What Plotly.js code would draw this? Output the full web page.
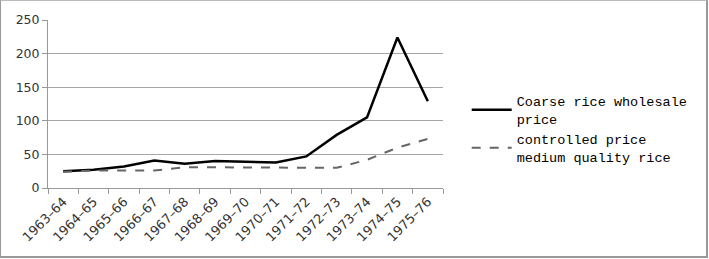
<!DOCTYPE html>
<html>
<head>
<meta charset="utf-8">
<script src="https://cdn.plot.ly/plotly-3.0.1.min.js"></script>
<style>
  html, body { margin: 0; padding: 0; background: #fff; }
  #wrap { position: relative; width: 709px; height: 259px; }
  #chart { position: absolute; left: 0; top: 0; width: 709px; height: 259px; }
  #frame { position: absolute; left: 0; top: 0; width: 705px; height: 255px;
           border-left: 1px solid #999; border-top: 1px solid #bbb;
           border-right: 2px solid #999; border-bottom: 2px solid #999;
           pointer-events: none; }
</style>
</head>
<body>
<div id="wrap"><div id="chart"></div><div id="frame"></div></div>
<script>
const years = ["1963–64","1964–65","1965–66","1966–67","1967–68","1968–69","1969–70",
               "1970–71","1971–72","1972–73","1973–74","1974–75","1975–76"];
const coarseWholesale = [25, 27, 32, 41, 36, 40, 39, 38, 47, 79, 105, 224, 129];
const controlledMedium = [24, 26, 26, 26, 31, 31, 31, 30, 30, 30, 42, 60, 73];
const seriesNames = ["Coarse rice wholesale<br>price", "controlled price<br>medium quality rice"];

const traces = [
  { x: years, y: coarseWholesale, name: seriesNames[0], type: "scatter", mode: "lines",
    line: { color: "#000", width: 2.5 } },
  { x: years, y: controlledMedium, name: seriesNames[1], type: "scatter", mode: "lines",
    line: { color: "#666", width: 2, dash: "dash" } }
];

const layout = {
  width: 709, height: 259,
  margin: { l: 48, r: 266, t: 20, b: 71, pad: 0 },
  paper_bgcolor: "#fff", plot_bgcolor: "#fff",
  showlegend: true,
  legend: {
    x: 1.06, xanchor: "left", y: 0.35, yanchor: "middle",
    font: { family: "Liberation Mono, Courier New, monospace", size: 13.5, color: "#000" },
    itemwidth: 40
  },
  xaxis: {
    type: "category", showgrid: false, zeroline: false,
    range: [-0.5, years.length - 0.5],
    showline: true, linecolor: "#999", linewidth: 1,
    ticks: "outside", tickson: "boundaries", ticklen: 5, tickcolor: "#999",
    tickangle: -45,
    tickfont: { family: "DejaVu Sans, sans-serif", size: 13, color: "#333" },
    fixedrange: true
  },
  yaxis: {
    range: [0, 250], dtick: 50, tick0: 0,
    showgrid: true, gridcolor: "#a6a6a6", gridwidth: 1,
    zeroline: false, showline: true, linecolor: "#999", linewidth: 1,
    ticks: "outside", ticklen: 5, tickcolor: "#999",
    tickfont: { family: "DejaVu Sans, sans-serif", size: 12.5, color: "#333" },
    fixedrange: true
  }
};

Plotly.newPlot("chart", traces, layout, { staticPlot: true, displayModeBar: false });
</script>
</body>
</html>
